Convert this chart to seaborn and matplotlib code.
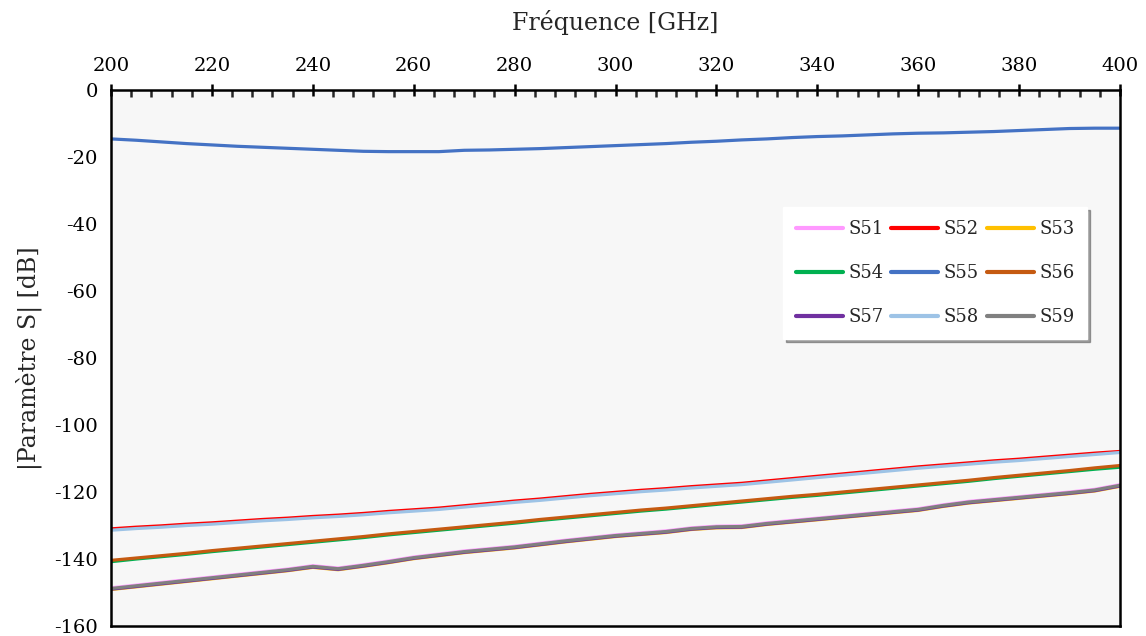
import pandas as pd
import numpy as np
import matplotlib
matplotlib.use("Agg")
import matplotlib.pyplot as plt
import seaborn as sns
from matplotlib.ticker import MultipleLocator

# -------------------------------
# Data
# -------------------------------
freq = list(range(200, 401, 5))

s51 = [-148.6, -147.8, -147.0, -146.2, -145.4, -144.6, -143.8, -143.0, -142.0, -142.7,
       -141.7, -140.6, -139.4, -138.5, -137.6, -136.9, -136.2, -135.3, -134.4, -133.6,
       -132.8, -132.2, -131.6, -130.7, -130.2, -130.1, -129.2, -128.5, -127.8, -127.1,
       -126.4, -125.7, -125.0, -123.8, -122.8, -122.1, -121.4, -120.7, -120.0, -119.2, -117.8]
s52 = [-131.0, -130.5, -130.1, -129.6, -129.2, -128.7, -128.2, -127.8, -127.3, -126.9,
       -126.4, -125.8, -125.3, -124.8, -124.1, -123.4, -122.7, -122.1, -121.4, -120.7,
       -120.1, -119.5, -119.0, -118.4, -117.9, -117.4, -116.7, -116.0, -115.3, -114.6,
       -113.9, -113.2, -112.5, -111.9, -111.3, -110.7, -110.2, -109.6, -109.0, -108.4, -107.9]
s53 = [-149.1, -148.3, -147.5, -146.7, -145.9, -145.1, -144.3, -143.5, -142.5, -143.2,
       -142.2, -141.1, -139.9, -139.0, -138.1, -137.4, -136.7, -135.8, -134.9, -134.1,
       -133.3, -132.7, -132.1, -131.2, -130.7, -130.6, -129.7, -129.0, -128.3, -127.6,
       -126.9, -126.2, -125.5, -124.3, -123.3, -122.6, -121.9, -121.2, -120.5, -119.7, -118.3]
s54 = [-140.8, -140.0, -139.3, -138.6, -137.8, -137.1, -136.4, -135.7, -135.0, -134.3,
       -133.6, -132.8, -132.1, -131.4, -130.7, -130.0, -129.3, -128.5, -127.8, -127.1,
       -126.4, -125.7, -125.1, -124.4, -123.7, -123.0, -122.3, -121.6, -121.0, -120.3,
       -119.6, -118.9, -118.2, -117.5, -116.8, -116.0, -115.3, -114.6, -113.9, -113.2, -112.6]
s55 = [-14.6, -15.0, -15.5, -16.0, -16.4, -16.8, -17.1, -17.4, -17.7, -18.0,
       -18.3, -18.4, -18.4, -18.4, -18.0, -17.9, -17.7, -17.5, -17.2, -16.9,
       -16.6, -16.3, -16.0, -15.6, -15.3, -14.9, -14.6, -14.2, -13.9, -13.7,
       -13.4, -13.1, -12.9, -12.8, -12.6, -12.4, -12.1, -11.8, -11.5, -11.4, -11.4]
s56 = [-140.4, -139.7, -139.0, -138.3, -137.5, -136.8, -136.1, -135.4, -134.7, -134.0,
       -133.3, -132.5, -131.8, -131.1, -130.4, -129.7, -129.0, -128.2, -127.5, -126.8,
       -126.1, -125.4, -124.8, -124.1, -123.4, -122.7, -122.0, -121.3, -120.7, -120.0,
       -119.3, -118.6, -117.9, -117.2, -116.5, -115.7, -115.0, -114.3, -113.6, -112.8, -112.1]
s57 = [-149.0, -148.2, -147.4, -146.6, -145.8, -145.0, -144.2, -143.4, -142.4, -143.1,
       -142.1, -141.0, -139.8, -138.9, -138.0, -137.3, -136.6, -135.7, -134.8, -134.0,
       -133.2, -132.6, -132.0, -131.1, -130.6, -130.5, -129.6, -128.9, -128.2, -127.5,
       -126.8, -126.1, -125.4, -124.2, -123.2, -122.5, -121.8, -121.1, -120.4, -119.6, -118.2]
s58 = [-131.4, -130.9, -130.5, -130.0, -129.6, -129.1, -128.6, -128.2, -127.7, -127.3,
       -126.8, -126.2, -125.7, -125.2, -124.5, -123.8, -123.1, -122.5, -121.8, -121.1,
       -120.5, -119.9, -119.4, -118.8, -118.3, -117.8, -117.1, -116.4, -115.7, -115.0,
       -114.3, -113.6, -112.9, -112.3, -111.7, -111.1, -110.6, -110.0, -109.4, -108.8, -108.2]
s59 = [-148.8, -148.0, -147.2, -146.4, -145.6, -144.8, -144.0, -143.2, -142.2, -142.9,
       -141.9, -140.8, -139.6, -138.7, -137.8, -137.1, -136.4, -135.5, -134.6, -133.8,
       -133.0, -132.4, -131.8, -130.9, -130.4, -130.3, -129.4, -128.7, -128.0, -127.3,
       -126.6, -125.9, -125.2, -124.0, -123.0, -122.3, -121.6, -120.9, -120.2, -119.4, -118.0]

names = ["S51", "S52", "S53", "S54", "S55", "S56", "S57", "S58", "S59"]
colors = ["#FF99FF", "#FF0000", "#FFC000", "#00B050", "#4472C4",
          "#C55A11", "#7030A0", "#9DC3E6", "#808080"]

# -------------------------------
# Long-format table for seaborn
# -------------------------------
series = [s51, s52, s53, s54, s55, s56, s57, s58, s59]
df = pd.concat([pd.DataFrame({"freq": freq, "db": vals, "param": name})
                for name, vals in zip(names, series)], ignore_index=True)

# -------------------------------
# Plot
# -------------------------------
sns.set_style("white")
plt.rcParams["font.family"] = ["DejaVu Serif"]
plt.rcParams["axes.unicode_minus"] = False

fig = plt.figure(figsize=(11.46, 6.36), dpi=100)
ax = fig.add_axes([0.0969, 0.0157, 0.8804, 0.8428])
ax.set_facecolor("#F7F7F7")

sns.lineplot(data=df, x="freq", y="db", hue="param", hue_order=names,
             palette=dict(zip(names, colors)), linewidth=2.3, ax=ax)

ax.set_xlim(200, 400)
ax.set_ylim(-160, 0)
ax.xaxis.set_major_locator(MultipleLocator(20))
ax.xaxis.set_minor_locator(MultipleLocator(4))
ax.yaxis.set_major_locator(MultipleLocator(20))
ax.yaxis.set_minor_locator(MultipleLocator(4))

ax.xaxis.set_label_position("top")
ax.tick_params(axis="x", which="both", bottom=False, top=True,
               labelbottom=False, labeltop=True)
ax.tick_params(axis="both", which="major", direction="inout", length=9,
               width=1.8, labelsize=14, colors="black")
ax.tick_params(axis="both", which="minor", direction="in", length=5, width=1.8)
ax.tick_params(axis="x", which="major", pad=6)
ax.tick_params(axis="y", which="major", pad=5)

for sp in ax.spines.values():
    sp.set_visible(True)
    sp.set_color("black")
    sp.set_linewidth(1.8)

ax.set_xlabel("Fréquence [GHz]", fontsize=17, labelpad=20)
ax.set_ylabel("|Paramètre S| [dB]", fontsize=17, labelpad=9)

# legend filled row by row, like the original
handles, labels = ax.get_legend_handles_labels()
order = [0, 3, 6, 1, 4, 7, 2, 5, 8]
leg = ax.legend([handles[i] for i in order], [labels[i] for i in order],
                ncol=3, loc="upper left", bbox_to_anchor=(0.666, 0.781),
                frameon=True, fancybox=False, shadow=True, fontsize=13,
                handlelength=2.6, columnspacing=0.45, labelspacing=1.45,
                handletextpad=0.3, borderpad=0.7, borderaxespad=0)
leg.get_frame().set_facecolor("white")
leg.get_frame().set_edgecolor("white")
for line in leg.get_lines():
    line.set_linewidth(3)

fig.savefig("out.png", dpi=100, facecolor="white")
